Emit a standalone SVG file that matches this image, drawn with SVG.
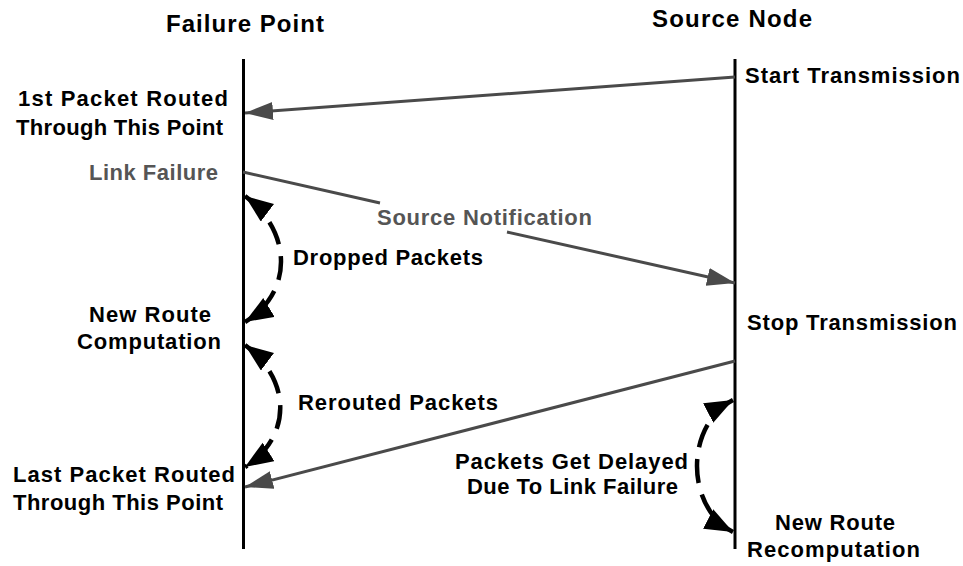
<svg xmlns="http://www.w3.org/2000/svg" width="963" height="566" viewBox="0 0 963 566">
<style>
  text { font-family: "Liberation Sans", Arial, sans-serif; font-weight: bold; font-size: 22px; fill: #000; }
  .hdr { font-size: 24px; }
  .gray { fill: #555555; }
  .life { stroke: #000; stroke-width: 3; fill: none; }
  .msg { stroke: #4a4a4a; stroke-width: 3; fill: none; marker-end: url(#ga); }
  .dash { stroke: #000; stroke-width: 4.5; fill: none; stroke-dasharray: 24 12; marker-start: url(#ba); marker-end: url(#ba); }
</style>
<defs>
  <marker id="ga" markerUnits="userSpaceOnUse" markerWidth="30" markerHeight="20" refX="28" refY="9" orient="auto">
    <path d="M0,0 L28,9 L0,18 Z" fill="#4a4a4a"/>
  </marker>
  <marker id="ba" markerUnits="userSpaceOnUse" markerWidth="30" markerHeight="24" refX="28" refY="11" orient="auto-start-reverse">
    <path d="M0,0 L28,11 L0,22 Z" fill="#000"/>
  </marker>
</defs>
<rect width="963" height="566" fill="#fff"/>

<g id="failure-point">
  <text class="hdr" x="166" y="32" textLength="158">Failure Point</text>
  <line class="life" x1="243.5" y1="59" x2="243.5" y2="549"/>
</g>
<g id="source-node">
  <text class="hdr" x="652" y="27" textLength="160">Source Node</text>
  <line class="life" x1="735" y1="59" x2="735" y2="549"/>
</g>

<g id="first-packet">
  <text x="18" y="106" textLength="210">1st Packet Routed</text>
  <text x="16" y="135" textLength="207">Through This Point</text>
</g>
<g id="link-failure">
  <text class="gray" x="89" y="180" textLength="129">Link Failure</text>
</g>
<g id="new-route-computation">
  <text x="89" y="322" textLength="122">New Route</text>
  <text x="77" y="349" textLength="144">Computation</text>
</g>
<g id="last-packet">
  <text x="13" y="482" textLength="222">Last Packet Routed</text>
  <text x="13" y="510" textLength="210">Through This Point</text>
</g>
<g id="start-transmission">
  <text x="745" y="83" textLength="215">Start Transmission</text>
</g>
<g id="stop-transmission">
  <text x="747" y="330" textLength="210">Stop Transmission</text>
</g>
<g id="new-route-recomputation">
  <text x="775" y="530" textLength="120">New Route</text>
  <text x="747" y="557" textLength="173">Recomputation</text>
</g>

<g id="connectors">
  <path class="msg" d="M735,77 L245,113"/>
  <path class="msg" d="M243,172 L380,203 M507,232 L735,283"/>
  <path class="msg" d="M735,361 L245,487"/>
  <path class="dash" d="M245,196 C293,232 293,293 245,322"/>
  <path class="dash" d="M245,345 C292,380 292,437 245,467"/>
  <path class="dash" d="M733,400 C685,425 685,507 733,532"/>
  <text class="gray" x="377" y="225" textLength="215">Source Notification</text>
  <text x="293" y="265" textLength="190">Dropped Packets</text>
  <text x="298" y="410" textLength="200">Rerouted Packets</text>
  <text x="455" y="469" textLength="233">Packets Get Delayed</text>
  <text x="467" y="494" textLength="211">Due To Link Failure</text>
</g>
</svg>
